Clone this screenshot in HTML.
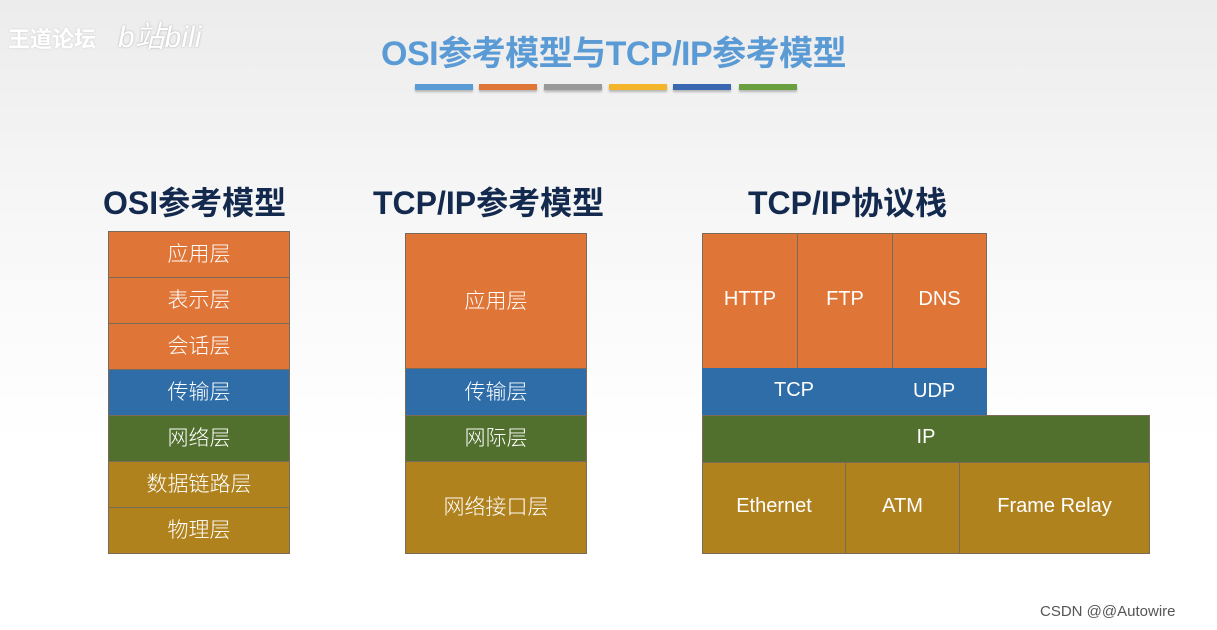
<!DOCTYPE html>
<html><head><meta charset="utf-8"><style>
*{margin:0;padding:0;box-sizing:border-box}
body{width:1217px;height:630px;overflow:hidden;position:relative;background:linear-gradient(#ececec 0%,#f7f7f7 35%,#fff 70%);font-family:"Liberation Sans","Noto Sans CJK SC",sans-serif}
.a{position:absolute}
.c{position:absolute;display:flex;align-items:center;justify-content:center;color:#fff;font-size:21px;border:1px solid #7a6a5a;font-family:"Noto Sans CJK SC",sans-serif;font-weight:300;padding-bottom:3px}
.e{font-family:"Liberation Sans","Noto Sans CJK SC",sans-serif;font-weight:400;font-size:20px}
.o{background:#E07538}.b{background:#2E6DA8}.g{background:#516F2D}.y{background:#B0821D}
.h{position:absolute;font-weight:700;font-size:32px;color:#132a4e;font-family:"Liberation Sans","Noto Sans CJK SC",sans-serif;white-space:nowrap}
.bar{position:absolute;top:84px;width:58px;height:6px;box-shadow:0 2px 2px rgba(0,0,0,.25)}
</style></head><body>
<div class="a" style="left:8px;top:22px;color:#fff;font-size:22px;font-weight:700;font-family:'Noto Sans CJK SC',sans-serif;text-shadow:0 0 2px #ccc">王道论坛</div>
<div class="a" style="left:118px;top:12px;color:#fff;font-size:30px;font-style:italic;text-shadow:0 0 2px #aaa">b站bili</div>
<div class="a" style="left:381px;top:26px;color:#5B9BD5;font-size:34px;font-weight:700;font-family:'Liberation Sans','Noto Sans CJK SC',sans-serif;letter-spacing:-0.5px;white-space:nowrap">OSI参考模型与TCP/IP参考模型</div>
<div class="bar" style="left:415px;background:#5B9BD5"></div>
<div class="bar" style="left:479px;background:#E07538"></div>
<div class="bar" style="left:544px;background:#999"></div>
<div class="bar" style="left:609px;background:#F5B52A"></div>
<div class="bar" style="left:673px;background:#3A68B0"></div>
<div class="bar" style="left:739px;background:#68A040"></div>
<div class="h" style="left:103px;top:178px">OSI参考模型</div>
<div class="h" style="left:373px;top:178px">TCP/IP参考模型</div>
<div class="h" style="left:748px;top:178px">TCP/IP协议栈</div>
<div class="c o" style="left:108px;top:231px;width:182px;height:47px">应用层</div>
<div class="c o" style="left:108px;top:277px;width:182px;height:47px">表示层</div>
<div class="c o" style="left:108px;top:323px;width:182px;height:47px">会话层</div>
<div class="c b" style="left:108px;top:369px;width:182px;height:47px">传输层</div>
<div class="c g" style="left:108px;top:415px;width:182px;height:47px">网络层</div>
<div class="c y" style="left:108px;top:461px;width:182px;height:47px">数据链路层</div>
<div class="c y" style="left:108px;top:507px;width:182px;height:47px">物理层</div>
<div class="c o" style="left:405px;top:233px;width:182px;height:136px">应用层</div>
<div class="c b" style="left:405px;top:368px;width:182px;height:48px">传输层</div>
<div class="c g" style="left:405px;top:415px;width:182px;height:47px">网际层</div>
<div class="c y" style="left:405px;top:461px;width:182px;height:93px">网络接口层</div>
<div class="c o e" style="left:702px;top:233px;width:96px;height:136px">HTTP</div>
<div class="c o e" style="left:797px;top:233px;width:96px;height:136px">FTP</div>
<div class="c o e" style="left:892px;top:233px;width:95px;height:136px">DNS</div>
<div class="c b e" style="left:702px;top:368px;width:285px;height:48px;border:none;justify-content:flex-start;padding-left:72px">TCP</div>
<div class="a e" style="left:913px;top:380px;color:#fff;font-size:20px">UDP</div>
<div class="c g e" style="left:702px;top:415px;width:448px;height:48px">IP</div>
<div class="c y e" style="left:702px;top:462px;width:144px;height:92px">Ethernet</div>
<div class="c y e" style="left:845px;top:462px;width:115px;height:92px">ATM</div>
<div class="c y e" style="left:959px;top:462px;width:191px;height:92px">Frame Relay</div>
<div class="a" style="left:1040px;top:603px;color:#555;font-size:15px">CSDN @@Autowire</div>
</body></html>
